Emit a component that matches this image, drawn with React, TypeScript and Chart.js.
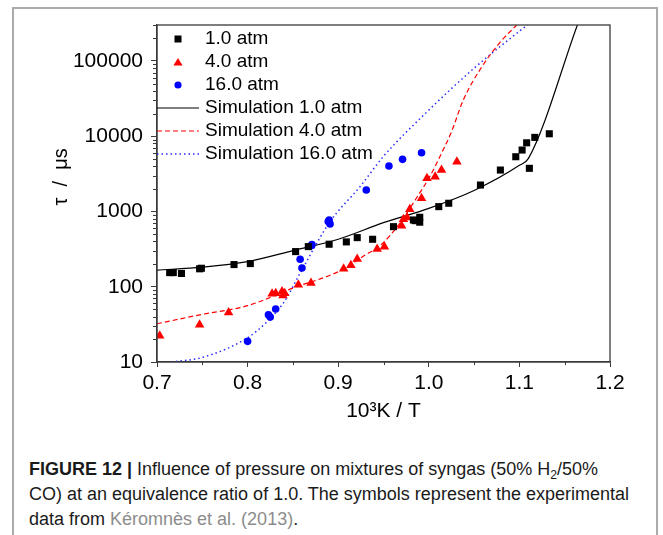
import React, { useEffect, useRef } from "react";
import { Chart, registerables } from "chart.js";

Chart.register(...registerables);

const FONT = '"Liberation Sans", Arial, Helvetica, sans-serif';
const AXIS = "#3a3a3a";

// ---- axes ----
const xTicks = [0.7, 0.8, 0.9, 1.0, 1.1, 1.2];
const xMinorTicks = [0.75, 0.85, 0.95, 1.05, 1.15];
const yTicks = [10, 100, 1000, 10000, 100000];
const yMinorTicks = yTicks
  .flatMap((d) => [2, 3, 4, 5, 6, 7, 8, 9].map((k) => k * d))
  .filter((v) => v <= 300000);

const legendLabels = [
  "1.0 atm",
  "4.0 atm",
  "16.0 atm",
  "Simulation 1.0 atm",
  "Simulation 4.0 atm",
  "Simulation 16.0 atm",
];

// ---- experimental data: 1.0 atm ----
const exp1X = [0.714, 0.718, 0.727, 0.747, 0.749, 0.785, 0.803, 0.853, 0.867, 0.89, 0.909, 0.921, 0.938, 0.961, 0.983, 0.985, 0.99, 0.99, 1.011, 1.022, 1.057, 1.079, 1.096, 1.103, 1.108, 1.111, 1.117, 1.133];
const exp1Y = [154, 154, 150, 173, 176, 197, 203, 293, 341, 367, 394, 449, 427, 628, 771, 755, 837, 720, 1159, 1285, 2244, 3548, 5333, 6546, 8164, 3741, 9640, 10770];

// ---- experimental data: 4.0 atm ----
const exp4X = [0.703, 0.747, 0.779, 0.827, 0.831, 0.838, 0.839, 0.841, 0.856, 0.87, 0.906, 0.914, 0.921, 0.943, 0.951, 0.97, 0.972, 0.976, 0.979, 0.992, 0.998, 1.007, 1.014, 1.031];
const exp4Y = [22.3, 31.3, 45.5, 80.5, 82.2, 86.3, 76.4, 82.2, 106, 112, 173, 193, 234, 318, 341, 648, 789, 829, 1069, 1496, 2754, 2893, 3548, 4571];

// ---- experimental data: 16.0 atm ----
const exp16X = [0.8, 0.823, 0.825, 0.831, 0.858, 0.86, 0.87, 0.871, 0.889, 0.891, 0.89, 0.931, 0.956, 0.971, 0.992];
const exp16Y = [18.8, 42.4, 39.5, 50.5, 232, 177, 349, 362, 733, 683, 770, 1929, 4018, 4920, 6025];

// ---- simulations ----
const sim1X = [0.7, 0.75, 0.8, 0.85, 0.9, 0.95, 1.0, 1.05, 1.1, 1.11, 1.164];
const sim1Y = [166, 182, 216, 302, 428, 710, 1100, 1900, 4100, 5070, 300000];

const sim4X = [0.7, 0.75, 0.8, 0.85, 0.9, 0.913, 0.93, 0.946, 0.968, 0.985, 1.001, 1.014, 1.025, 1.038, 1.057, 1.079, 1.097];
const sim4Y = [32.2, 43, 56, 96, 158, 195, 265, 349, 697, 1420, 2900, 5920, 11400, 30100, 78200, 178700, 300000];

const sim16X = [0.716, 0.75, 0.8, 0.82, 0.84, 0.86, 0.891, 0.924, 0.95, 1.0, 1.05, 1.1, 1.109];
const sim16Y = [10, 11.5, 21, 33, 62, 168, 733, 2130, 5400, 22200, 80000, 248000, 300000];

const zip = (xs: number[], ys: number[]) => xs.map((x, i) => ({ x, y: ys[i] }));

function drawSymbol(ctx: CanvasRenderingContext2D, ds: any, cx: number, cy: number) {
  ctx.save();
  if (ds.symbol === "line") {
    ctx.strokeStyle = ds.borderColor;
    ctx.lineWidth = ds.borderWidth;
    ctx.setLineDash(ds.borderDash || []);
    ctx.beginPath();
    ctx.moveTo(cx - 21, cy);
    ctx.lineTo(cx + 21, cy);
    ctx.stroke();
  } else {
    ctx.fillStyle = ds.pointBackgroundColor;
    ctx.beginPath();
    if (ds.symbol === "rect") {
      ctx.rect(cx - 3.5, cy - 3.5, 7, 7);
    } else if (ds.symbol === "triangle") {
      ctx.moveTo(cx, cy - 4);
      ctx.lineTo(cx + 4.6, cy + 3.5);
      ctx.lineTo(cx - 4.6, cy + 3.5);
      ctx.closePath();
    } else {
      ctx.arc(cx, cy, 3.6, 0, Math.PI * 2);
    }
    ctx.fill();
  }
  ctx.restore();
}

const decorPlugin = {
  id: "decor",
  afterDraw(chart: any) {
    const { ctx, chartArea: a, scales } = chart;
    const sx = scales.x;
    const sy = scales.y;
    ctx.save();
    ctx.strokeStyle = AXIS;
    ctx.lineWidth = 1;
    ctx.beginPath();
    for (const v of yMinorTicks) {
      const p = Math.round(sy.getPixelForValue(v)) + 0.5;
      ctx.moveTo(a.left - 4, p);
      ctx.lineTo(a.left, p);
    }
    for (const v of xMinorTicks) {
      const p = Math.round(sx.getPixelForValue(v)) + 0.5;
      ctx.moveTo(p, a.bottom);
      ctx.lineTo(p, a.bottom + 3);
    }
    ctx.stroke();
    ctx.lineWidth = 1.3;
    ctx.strokeRect(a.left, a.top, a.right - a.left, a.bottom - a.top);

    // legend inside the plot, top-left
    ctx.font = `19px ${FONT}`;
    ctx.fillStyle = "#000";
    ctx.textBaseline = "middle";
    ctx.textAlign = "left";
    chart.data.datasets.forEach((ds: any, i: number) => {
      const cy = a.top + 14 + i * 23;
      drawSymbol(ctx, ds, a.left + 21, cy);
      ctx.fillStyle = "#000";
      ctx.fillText(ds.label, a.left + 48, cy);
    });
    ctx.restore();
  },
};

export default function App() {
  const ref = useRef<HTMLCanvasElement>(null);

  useEffect(() => {
    Chart.defaults.font.family = FONT;
    const chart = new Chart(ref.current as HTMLCanvasElement, {
      type: "scatter",
      data: {
        datasets: [
          {
            label: legendLabels[0],
            data: zip(exp1X, exp1Y),
            showLine: false,
            pointStyle: "rect",
            pointRadius: 5,
            pointBackgroundColor: "#000000",
            pointBorderWidth: 0,
            symbol: "rect",
          } as any,
          {
            label: legendLabels[1],
            data: zip(exp4X, exp4Y),
            showLine: false,
            pointStyle: "triangle",
            pointRadius: 5.5,
            pointBackgroundColor: "#ff0000",
            pointBorderWidth: 0,
            symbol: "triangle",
          } as any,
          {
            label: legendLabels[2],
            data: zip(exp16X, exp16Y),
            showLine: false,
            pointStyle: "circle",
            pointRadius: 3.8,
            pointBackgroundColor: "#0000ff",
            pointBorderWidth: 0,
            symbol: "circle",
          } as any,
          {
            label: legendLabels[3],
            data: zip(sim1X, sim1Y),
            showLine: true,
            pointRadius: 0,
            borderColor: "#000000",
            borderWidth: 1.2,
            cubicInterpolationMode: "monotone",
            fill: false,
            symbol: "line",
          } as any,
          {
            label: legendLabels[4],
            data: zip(sim4X, sim4Y),
            showLine: true,
            pointRadius: 0,
            borderColor: "#ff0000",
            borderWidth: 1.2,
            borderDash: [5, 3],
            cubicInterpolationMode: "monotone",
            fill: false,
            symbol: "line",
          } as any,
          {
            label: legendLabels[5],
            data: zip(sim16X, sim16Y),
            showLine: true,
            pointRadius: 0,
            borderColor: "#2a2aff",
            borderWidth: 1.5,
            borderDash: [1.5, 3],
            cubicInterpolationMode: "monotone",
            fill: false,
            symbol: "line",
          } as any,
        ],
      },
      options: {
        animation: false,
        responsive: false,
        maintainAspectRatio: false,
        events: [],
        layout: { padding: { top: 25, right: 53, bottom: 0, left: 0 } },
        plugins: {
          legend: { display: false },
          tooltip: { enabled: false },
        },
        scales: {
          x: {
            type: "linear",
            min: 0.7,
            max: 1.2,
            afterBuildTicks: (s: any) => {
              s.ticks = xTicks.map((v) => ({ value: v }));
            },
            afterFit: (s: any) => {
              s.height = 78;
            },
            ticks: {
              callback: (v: any) => Number(v).toFixed(1),
              font: { family: FONT, size: 21 },
              color: "#000",
              padding: 4,
              maxRotation: 0,
              autoSkip: false,
            },
            grid: {
              display: true,
              drawOnChartArea: false,
              drawTicks: true,
              tickLength: 5,
              tickColor: AXIS,
              tickWidth: 1,
            },
            border: { display: true, color: AXIS, width: 1.3 },
            title: {
              display: true,
              text: "10³K / T",
              font: { family: FONT, size: 21 },
              color: "#000",
              padding: { top: 0, bottom: 16 },
            },
          },
          y: {
            type: "logarithmic",
            min: 10,
            max: 300000,
            afterBuildTicks: (s: any) => {
              s.ticks = yTicks.map((v) => ({ value: v, major: true }));
            },
            afterFit: (s: any) => {
              s.width = 157;
            },
            ticks: {
              callback: (v: any) => String(v),
              font: { family: FONT, size: 21 },
              color: "#000",
              padding: 8,
              autoSkip: false,
            },
            grid: {
              display: true,
              drawOnChartArea: false,
              drawTicks: true,
              tickLength: 6,
              tickColor: AXIS,
              tickWidth: 1,
            },
            border: { display: true, color: AXIS, width: 1.3 },
            title: {
              display: true,
              text: "      τ  /  μs",
              font: { family: FONT, size: 20 },
              color: "#000",
              padding: { top: 49, bottom: 0 },
            },
          },
        },
      } as any,
      plugins: [decorPlugin],
    });
    return () => chart.destroy();
  }, []);

  return (
    <div
      style={{
        position: "absolute",
        left: 0,
        top: 0,
        width: 663,
        height: 535,
        overflow: "hidden",
        background: "#fff",
      }}
    >
      <div
        style={{
          position: "absolute",
          left: 12,
          top: 7,
          width: 642,
          height: 600,
          border: "2px solid #ababab",
        }}
      />
      <canvas
        ref={ref}
        width={663}
        height={440}
        style={{ position: "absolute", left: 0, top: 0 }}
      />
      <div
        style={{
          position: "absolute",
          left: 29,
          top: 457,
          fontFamily: FONT,
          fontSize: 18,
          lineHeight: "25px",
          color: "#1a1a1a",
          whiteSpace: "nowrap",
        }}
      >
        <div>
          <b>FIGURE 12 |</b> Influence of pressure on mixtures of syngas (50% H
          <span style={{ fontSize: "0.68em", verticalAlign: "-0.3em", lineHeight: 0 }}>2</span>
          /50%
        </div>
        <div>CO) at an equivalence ratio of 1.0. The symbols represent the experimental</div>
        <div>
          data from <span style={{ color: "#8c8c8c" }}>Kéromnès et al. (2013)</span>.
        </div>
      </div>
    </div>
  );
}
